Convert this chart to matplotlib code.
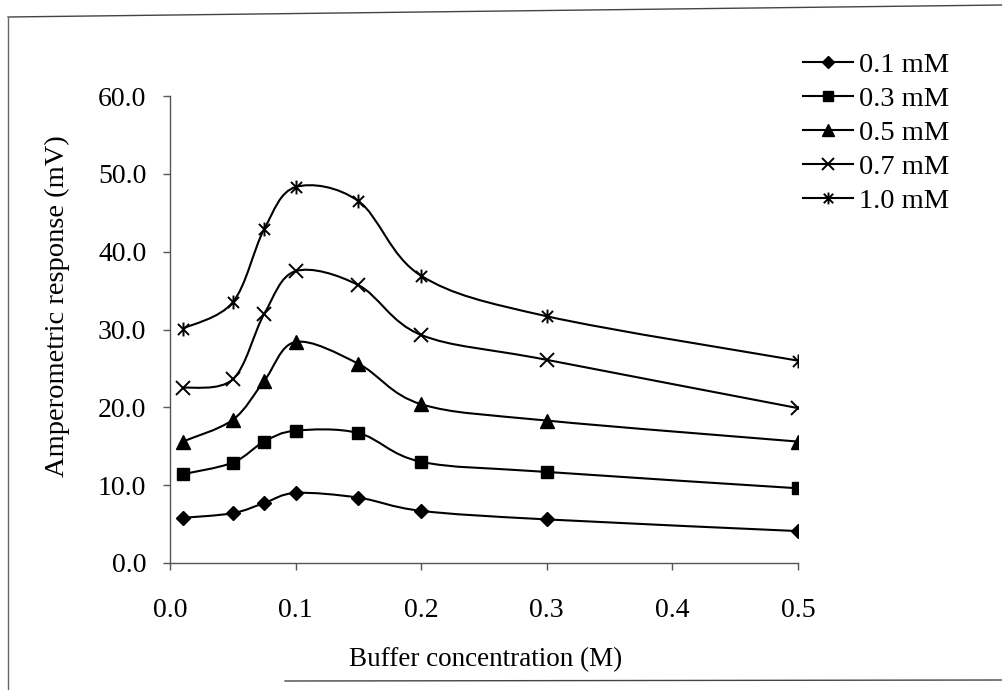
import numpy as np
import matplotlib
matplotlib.use("Agg")
import matplotlib.pyplot as plt
from matplotlib.path import Path
from matplotlib.patches import PathPatch
from matplotlib.lines import Line2D

plt.rcParams['font.family'] = ['Liberation Serif', 'DejaVu Serif']

# Buffer concentration (M)
buffer_conc = [0.01, 0.05, 0.075, 0.1, 0.15, 0.2, 0.3, 0.5]

# Amperometric response (mV) for each substrate concentration
resp_01 = [5.8, 6.4, 7.7, 9.0, 8.4, 6.7, 5.6, 4.1]
resp_03 = [11.4, 12.9, 15.6, 17.0, 16.7, 13.0, 11.7, 9.6]
resp_05 = [15.6, 18.4, 23.4, 28.4, 25.6, 20.4, 18.3, 15.6]
resp_07 = [22.5, 23.6, 32.0, 37.5, 35.7, 29.3, 26.1, 19.9]
resp_10 = [30.1, 33.5, 42.9, 48.3, 46.5, 36.9, 31.7, 26.0]

series_labels = ['0.1 mM', '0.3 mM', '0.5 mM', '0.7 mM', '1.0 mM']

x_ticks = [0.0, 0.1, 0.2, 0.3, 0.4, 0.5]
y_ticks = [0, 10, 20, 30, 40, 50, 60]

# asterisk marker: an x with a vertical bar through it
star_path = Path([(-1, -1), (1, 1), (-1, 1), (1, -1), (0, -1.25), (0, 1.25)],
                 [Path.MOVETO, Path.LINETO, Path.MOVETO, Path.LINETO,
                  Path.MOVETO, Path.LINETO])

styles = [
    dict(marker='D', ms=7.5),
    dict(marker='s', ms=8.5),
    dict(marker='^', ms=9.5),
    dict(marker='x', ms=10, mew=1.4),
    dict(marker=star_path, ms=10, mew=1.4),
]
legend_ms = [6.5, 7.5, 8, 8.5, 8.5]


def smooth_path(xs, ys):
    """Cubic Bezier path through the points (Catmull-Rom style smoothing)."""
    pts = np.column_stack([xs, ys]).astype(float)
    n = len(pts)
    verts = [pts[0]]
    codes = [Path.MOVETO]
    for i in range(n - 1):
        p0 = pts[max(i - 1, 0)]
        p1 = pts[i]
        p2 = pts[i + 1]
        p3 = pts[min(i + 2, n - 1)]
        c1 = p1 + (p2 - p0) / 6.0
        c2 = p2 - (p3 - p1) / 6.0
        verts += [c1, c2, p2]
        codes += [Path.CURVE4] * 3
    return Path(verts, codes)


W, H = 1003, 690
fig = plt.figure(figsize=(W / 100, H / 100), dpi=100)
ax = fig.add_axes([170 / W, (H - 563) / H, (798 - 170) / W, (563 - 96) / H])

handles = []
for vals, lab, st, lms in zip([resp_01, resp_03, resp_05, resp_07, resp_10],
                              series_labels, styles, legend_ms):
    ax.add_patch(PathPatch(smooth_path(buffer_conc, vals), fill=False,
                           edgecolor='black', lw=1.5))
    ax.plot(buffer_conc, vals, linestyle='none', color='black',
            markerfacecolor='black', markeredgecolor='black', **st)
    hst = dict(st)
    hst['ms'] = lms
    handles.append(Line2D([], [], color='black', lw=1.5,
                          markerfacecolor='black', markeredgecolor='black',
                          label=lab, **hst))

ax.set_xlim(0, 0.5)
ax.set_ylim(0, 60)
ax.set_xticks(x_ticks)
ax.set_xticklabels([f'{v:.1f}' for v in x_ticks])
ax.set_yticks(y_ticks)
ax.set_yticklabels([f'{v:.1f}' for v in y_ticks])
ax.tick_params(direction='out', length=5, width=1, labelsize=20,
               color='#555555')
ax.tick_params(axis='x', pad=20)
ax.tick_params(axis='y', pad=12)
for s in ['top', 'right']:
    ax.spines[s].set_visible(False)
for s in ['left', 'bottom']:
    ax.spines[s].set_color('#555555')
    ax.spines[s].set_linewidth(1.0)

ax.set_ylabel('Amperometric response (mV)', fontsize=20.5)
ax.yaxis.set_label_coords(-113 / 628, (563 - 306) / 467)
ax.set_xlabel('Buffer concentration (M)', fontsize=19.5)
ax.xaxis.set_label_coords((486 - 170) / 628, -(660 - 563) / 467)
ax.xaxis.label.set_va('center')
ax.yaxis.label.set_va('center')

fig.legend(handles=handles, loc='upper left', frameon=False, fontsize=20.5,
           bbox_to_anchor=(792 / W, 1 - 41 / H), handlelength=1.75,
           handletextpad=0.2, labelspacing=0.28, borderaxespad=0)

# outer frame lines of the figure
fig.add_artist(Line2D([8 / W, 1], [1 - 17 / H, 1 - 5 / H], color='#444444',
                      lw=1.0, transform=fig.transFigure))
fig.add_artist(Line2D([8 / W, 8 / W], [1 - 18 / H, 0], color='#666666',
                      lw=1.0, transform=fig.transFigure))
fig.add_artist(Line2D([285 / W, 1], [1 - 681 / H, 1 - 680 / H],
                      color='#444444', lw=1.0, transform=fig.transFigure))

fig.savefig('out.png', dpi=100)
